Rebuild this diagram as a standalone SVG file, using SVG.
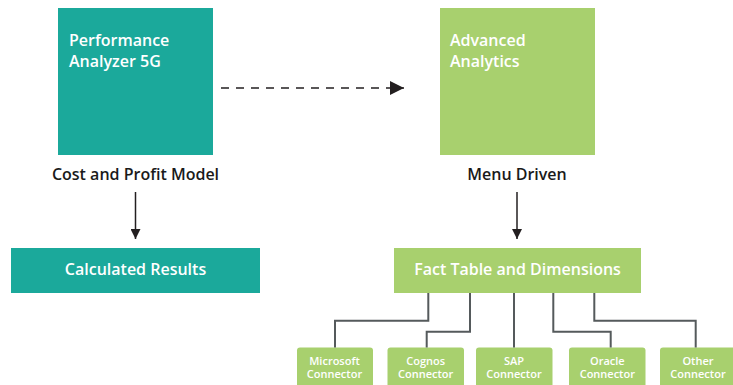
<svg xmlns="http://www.w3.org/2000/svg" width="733" height="385" viewBox="0 0 733 385">
<defs>
<marker id="ah" viewBox="0 0 10 10" refX="10" refY="5" markerWidth="10" markerHeight="10" markerUnits="userSpaceOnUse" orient="auto">
<path d="M0,0 L10,5 L0,10 z" fill="#231f20"/>
</marker>
<marker id="ah2" viewBox="0 0 14 14" refX="14" refY="7" markerWidth="14" markerHeight="14" markerUnits="userSpaceOnUse" orient="auto">
<path d="M0,0 L14,7 L0,14 z" fill="#231f20"/>
</marker>
</defs>
<style>
.teal{fill:#1ba99b}
.green{fill:#a8d06e}
.t{font-family:"Open Sans","Noto Sans",sans-serif;font-weight:600;fill:#ffffff}
.big{font-size:16px}
.lab{font-family:"Open Sans","Noto Sans",sans-serif;font-weight:600;font-size:16px;fill:#1a1a1a}
.sm{font-size:11px}
.conn{fill:none;stroke:#555a5c;stroke-width:2}
.arr{fill:none;stroke:#231f20;stroke-width:1.5}
</style>
<g id="performance-analyzer">
<rect class="teal" x="58" y="8" width="155" height="147"/>
<text class="t big" x="69" y="46">Performance</text>
<text class="t big" x="69" y="67">Analyzer 5G</text>
</g>
<g id="cost-profit-label">
<text class="lab" x="135.5" y="180" text-anchor="middle">Cost and Profit Model</text>
</g>
<g id="advanced-analytics">
<rect class="green" x="440" y="8" width="155" height="147"/>
<text class="t big" x="450" y="46">Advanced</text>
<text class="t big" x="450" y="67">Analytics</text>
</g>
<g id="menu-driven-label">
<text class="lab" x="517" y="180" text-anchor="middle">Menu Driven</text>
</g>
<g id="calculated-results">
<rect class="teal" x="11" y="248" width="249" height="45"/>
<text class="t big" x="135.5" y="275" text-anchor="middle">Calculated Results</text>
</g>
<g id="fact-table">
<rect class="green" x="394" y="248" width="247" height="45"/>
<text class="t big" x="517.5" y="275" text-anchor="middle">Fact Table and Dimensions</text>
</g>
<g id="microsoft-connector">
<rect class="green" x="297" y="347.5" width="76" height="45" rx="3"/>
<text class="t sm" x="334.5" y="365" text-anchor="middle">Microsoft</text>
<text class="t sm" x="334.5" y="378" text-anchor="middle">Connector</text>
</g>
<g id="cognos-connector">
<rect class="green" x="387.5" y="347.5" width="76.5" height="45" rx="3"/>
<text class="t sm" x="425.7" y="365" text-anchor="middle">Cognos</text>
<text class="t sm" x="425.7" y="378" text-anchor="middle">Connector</text>
</g>
<g id="sap-connector">
<rect class="green" x="476" y="347.5" width="76.5" height="45" rx="3"/>
<text class="t sm" x="514" y="365" text-anchor="middle">SAP</text>
<text class="t sm" x="514" y="378" text-anchor="middle">Connector</text>
</g>
<g id="oracle-connector">
<rect class="green" x="569" y="347.5" width="76.5" height="45" rx="3"/>
<text class="t sm" x="607.3" y="365" text-anchor="middle">Oracle</text>
<text class="t sm" x="607.3" y="378" text-anchor="middle">Connector</text>
</g>
<g id="other-connector">
<rect class="green" x="660" y="347.5" width="77" height="45" rx="3"/>
<text class="t sm" x="698" y="365" text-anchor="middle">Other</text>
<text class="t sm" x="698" y="378" text-anchor="middle">Connector</text>
</g>
<g id="connectors">
<line class="arr" x1="221" y1="88" x2="404" y2="88" stroke-dasharray="8,7" stroke-width="2" marker-end="url(#ah2)"/>
<line class="arr" x1="135.5" y1="192" x2="135.5" y2="239" marker-end="url(#ah)"/>
<line class="arr" x1="517" y1="192" x2="517" y2="239" marker-end="url(#ah)"/>
<polyline class="conn" points="428.3,293 428.3,320.7 335,320.7 335,347.5"/>
<polyline class="conn" points="470,293 470,331.7 426.7,331.7 426.7,347.5"/>
<polyline class="conn" points="514,293 514,347.5"/>
<polyline class="conn" points="553.3,293 553.3,331.7 610.7,331.7 610.7,347.5"/>
<polyline class="conn" points="594.3,293 594.3,320.7 695.7,320.7 695.7,347.5"/>
</g>
</svg>
